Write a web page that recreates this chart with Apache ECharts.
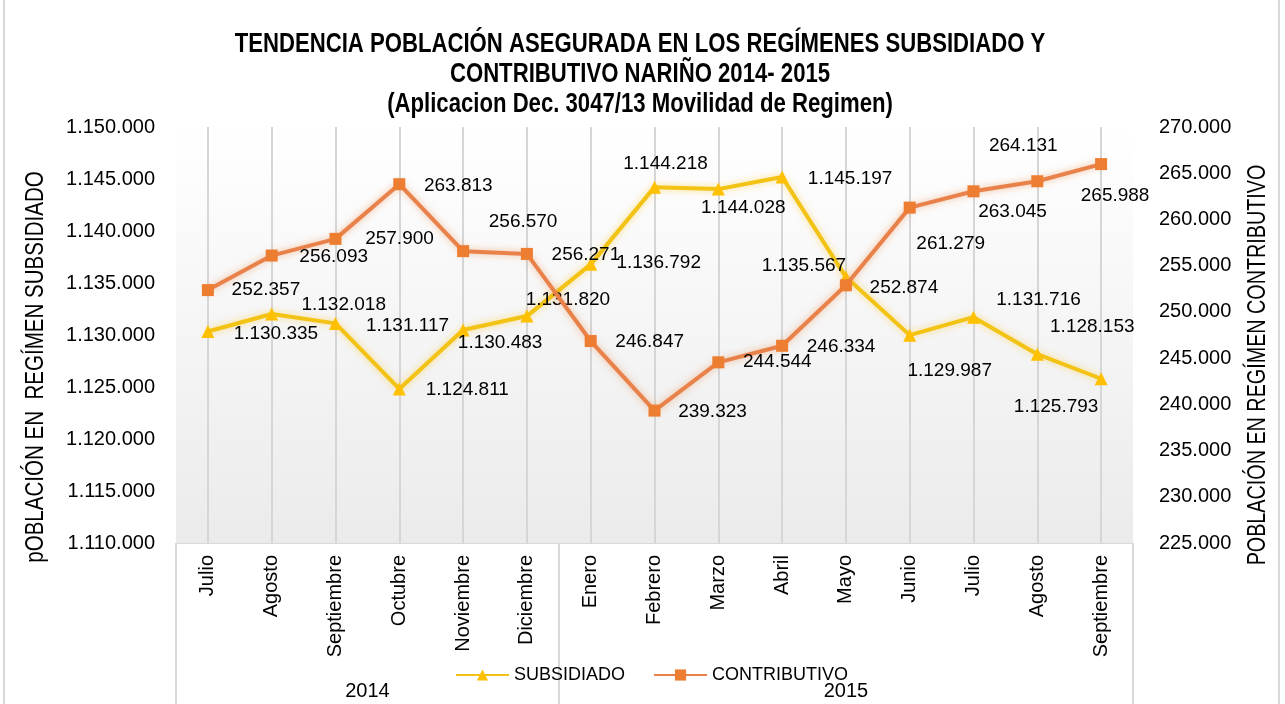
<!DOCTYPE html>
<html>
<head>
<meta charset="utf-8">
<script src="https://cdn.jsdelivr.net/npm/echarts@6/dist/echarts.min.js"></script>
<style>
  html, body { margin: 0; padding: 0; background: #fff; }
  #chart { width: 1285px; height: 704px; }
</style>
</head>
<body>
<div id="chart"></div>
<script>
// categorías (meses) y años
const months = ['Julio', 'Agosto', 'Septiembre', 'Octubre', 'Noviembre', 'Diciembre',
    'Enero', 'Febrero', 'Marzo', 'Abril', 'Mayo', 'Junio', 'Julio', 'Agosto', 'Septiembre'];
const years = ['2014', '2015'];
const yearFirstIndex = [0, 6];

// valores por régimen
const subsidiado = [1130335, 1132018, 1131117, 1124811, 1130483, 1131820, 1136792,
    1144218, 1144028, 1145197, 1135567, 1129987, 1131716, 1128153, 1125793];
const contributivo = [252357, 256093, 257900, 263813, 256570, 256271, 246847,
    239323, 244544, 246334, 252874, 261279, 263045, 264131, 265988];

// ejes
const leftMin = 1110000, leftMax = 1150000;
const rightMin = 225000, rightMax = 270000;
const axisStep = 5000;

// posición de las etiquetas (centro respecto al punto)
const subLabelOffset = [[68, 2], [72, -9], [72, 2], [68, 1], [37, 13], [41, -16], [68, -2],
    [11, -23], [25, 19], [68, 2], [-42, -11], [40, 36], [65, -17], [55, -27], [-45, 28]];
const conLabelOffset = [[58, 0], [62, 1], [64, 0], [59, 2], [60, -29], [59, 1], [59, 1],
    [58, 1], [59, -1], [59, 1], [58, 2], [41, 36], [39, 20], [-14, -35], [14, 32]];

const titleText = 'TENDENCIA POBLACIÓN ASEGURADA EN LOS REGÍMENES SUBSIDIADO Y\nCONTRIBUTIVO NARIÑO 2014- 2015\n(Aplicacion Dec. 3047/13 Movilidad de Regimen)';
const leftName = 'pOBLACIÓN EN  REGÍMEN SUBSIDIADO';
const rightName = 'POBLACIÓN EN REGÍMEN CONTRIBUTIVO';

const ARIAL = '"Liberation Sans", Arial, sans-serif';

function fmt(v) {
    return String(Math.round(v)).replace(/\B(?=(\d{3})+(?!\d))/g, '.');
}

function withLabels(values, offsets) {
    return values.map((v, i) => ({
        value: v,
        label: { position: 'inside', offset: offsets[i] }
    }));
}

const yearCenters = years.map((y, i) => {
    const start = yearFirstIndex[i];
    const end = i + 1 < yearFirstIndex.length ? yearFirstIndex[i + 1] - 1 : months.length - 1;
    return (start + end) / 2;
});
const yearBounds = [-0.5].concat(yearFirstIndex.slice(1).map(i => i - 0.5), [months.length - 0.5]);

const labelStyle = {
    show: true,
    color: '#000',
    fontFamily: ARIAL,
    fontSize: 19,
    align: 'center',
    verticalAlign: 'middle',
    formatter: p => fmt(p.value)
};

const chart = echarts.init(document.getElementById('chart'));
const option = {
    animation: false,
    backgroundColor: '#fff',
    legend: {
        data: ['SUBSIDIADO', 'CONTRIBUTIVO'],
        left: 450,
        top: 661,
        itemWidth: 53,
        itemHeight: 14,
        itemGap: 28,
        textStyle: { fontFamily: ARIAL, fontSize: 18, color: '#000' }
    },
    graphic: [{
        type: 'rect',
        shape: { x: 4, y: -2, width: 1275, height: 710 },
        style: { fill: 'none', stroke: '#d9d9d9', lineWidth: 2 },
        silent: true
    }, {
        // título, algo condensado como en el original
        type: 'text',
        x: 640,
        y: 30,
        scaleX: 0.82,
        style: {
            text: titleText,
            textAlign: 'center',
            textVerticalAlign: 'top',
            font: 'bold 27px ' + ARIAL,
            lineHeight: 30,
            fill: '#000'
        },
        silent: true
    }, {
        type: 'text',
        x: 36,
        y: 367,
        rotation: Math.PI / 2,
        scaleX: 0.79,
        style: {
            text: leftName,
            textAlign: 'center',
            textVerticalAlign: 'middle',
            font: '26px ' + ARIAL,
            fill: '#000'
        },
        silent: true
    }, {
        type: 'text',
        x: 1258,
        y: 365,
        rotation: Math.PI / 2,
        scaleX: 0.76,
        style: {
            text: rightName,
            textAlign: 'center',
            textVerticalAlign: 'middle',
            font: '26px ' + ARIAL,
            fill: '#000'
        },
        silent: true
    }],
    grid: {
        left: 176,
        right: 152,
        top: 127,
        bottom: 161,
        show: true,
        borderWidth: 0,
        backgroundColor: new echarts.graphic.LinearGradient(0, 0, 0, 1, [
            { offset: 0, color: '#ffffff' },
            { offset: 0.1, color: '#fdfdfd' },
            { offset: 1, color: '#ebebeb' }
        ])
    },
    xAxis: [{
        type: 'category',
        data: months,
        boundaryGap: true,
        axisLine: { show: true, lineStyle: { color: '#d9d9d9', width: 1 } },
        axisTick: { show: false, alignWithLabel: true },
        splitLine: { show: true, alignWithLabel: true, lineStyle: { color: '#d6d6d6', width: 2 } },
        axisLabel: {
            rotate: 90,
            interval: 0,
            margin: 12,
            color: '#000',
            fontFamily: ARIAL,
            fontSize: 20
        }
    }, {
        type: 'value',
        position: 'bottom',
        min: -0.5,
        max: months.length - 0.5,
        axisLine: { show: false },
        splitLine: { show: false },
        axisTick: {
            show: true,
            customValues: yearBounds,
            length: 165,
            lineStyle: { color: '#d9d9d9', width: 2 }
        },
        axisLabel: {
            customValues: yearCenters,
            margin: 138,
            color: '#000',
            fontFamily: ARIAL,
            fontSize: 20,
            formatter: v => years[yearCenters.indexOf(v)] || ''
        }
    }],
    yAxis: [{
        type: 'value',
        min: leftMin,
        max: leftMax,
        interval: axisStep,
        axisLine: { show: false },
        axisTick: { show: false },
        splitLine: { show: false },
        axisLabel: { margin: 21, color: '#000', fontFamily: ARIAL, fontSize: 20, formatter: fmt }
    }, {
        type: 'value',
        min: rightMin,
        max: rightMax,
        interval: axisStep,
        position: 'right',
        axisLine: { show: false },
        axisTick: { show: false },
        splitLine: { show: false },
        axisLabel: { margin: 26, color: '#000', fontFamily: ARIAL, fontSize: 20, formatter: fmt }
    }],
    series: [{
        name: 'SUBSIDIADO',
        type: 'line',
        yAxisIndex: 0,
        data: withLabels(subsidiado, subLabelOffset),
        symbol: 'triangle',
        symbolSize: 13,
        itemStyle: { color: '#FFC000' },
        lineStyle: { width: 4, color: '#F2C314', shadowBlur: 7, shadowColor: 'rgba(255,192,0,0.5)' },
        label: labelStyle,
        z: 3
    }, {
        name: 'CONTRIBUTIVO',
        type: 'line',
        yAxisIndex: 1,
        data: withLabels(contributivo, conLabelOffset),
        symbol: 'rect',
        symbolSize: 12,
        itemStyle: { color: '#ED7D31' },
        lineStyle: { width: 4, color: '#E8824A', shadowBlur: 7, shadowColor: 'rgba(237,125,49,0.5)' },
        label: labelStyle,
        z: 4
    }]
};
chart.setOption(option);
</script>
</body>
</html>
